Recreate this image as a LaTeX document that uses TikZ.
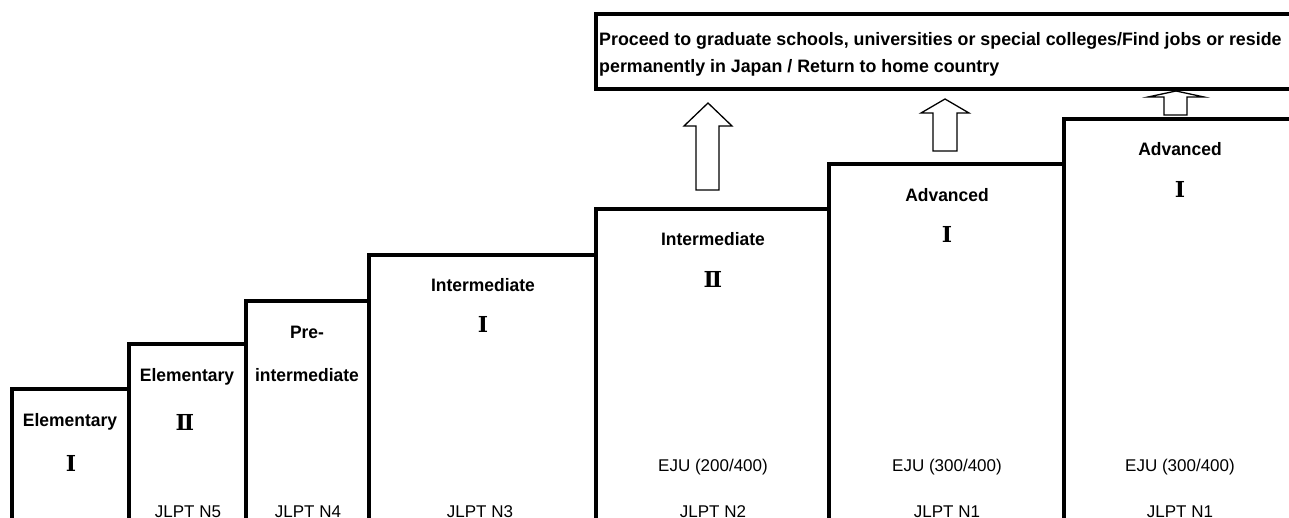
\documentclass[tikz,border=0pt]{standalone}
\usepackage{fontspec}
\setmainfont{Liberation Sans}
\newfontfamily\lblfont[FakeStretch=0.97]{Liberation Sans}
\newfontfamily\topfont[FakeStretch=0.99]{Liberation Sans}
\newfontfamily\numfont{DejaVu Serif}
\begin{document}
\begin{tikzpicture}[x=1pt,y=-1pt,
  box/.style={line width=4pt,line join=miter},
  uparrow/.style={line width=1.3pt,fill=white,line join=miter},
  lbl/.style={inner sep=0pt,anchor=base,font=\lblfont\bfseries\fontsize{18}{20}\selectfont},
  num/.style={inner sep=0pt,font=\numfont\bfseries\fontsize{22}{24}\selectfont},
  small/.style={inner sep=0pt,anchor=base,font=\fontsize{17}{19}\selectfont},
]
\clip (0,0) rectangle (1289,518);
% level boxes
\draw[box] (12,530) -- (12,389) -- (129,389) -- (129,530);
\draw[box] (129,530) -- (129,344) -- (245.5,344) -- (245.5,530);
\draw[box] (245.5,530) -- (245.5,301) -- (369,301) -- (369,530);
\draw[box] (369,530) -- (369,255) -- (596,255) -- (596,530);
\draw[box] (596,530) -- (596,209) -- (829,209) -- (829,530);
\draw[box] (829,530) -- (829,164.5) -- (1064,164.5) -- (1064,530);
\draw[box] (1064,530) -- (1064,119) -- (1300,119);
% arrows
\draw[uparrow] (696,190) -- (696,126) -- (684,126) -- (708,103) -- (732,126) -- (719,126) -- (719,190) -- cycle;
\draw[uparrow] (933,151) -- (933,113) -- (921,113) -- (945,99) -- (969,113) -- (957,113) -- (957,151) -- cycle;
\draw[uparrow] (1164,115) -- (1164,97) -- (1148,97) -- (1176,91) -- (1204,97) -- (1187,97) -- (1187,115) -- cycle;
% destination box
\draw[box] (1300,14) -- (596,14) -- (596,89) -- (1300,89);
\node[anchor=north west,inner sep=0pt,align=left,font=\topfont\bfseries\fontsize{18}{27}\selectfont] (dest) at (599,32)
  {Proceed to graduate schools, universities or special colleges/Find jobs or reside\\permanently in Japan / Return to home country};
% labels
\node[lbl] (e1) at (70,426) {Elementary};
\node[num] (e1n) at (71,463) {Ⅰ};
\node[lbl] (e2) at (187,381) {Elementary};
\node[num] (e2n) at (185,422) {Ⅱ};
\node[lbl] (p1) at (307,338) {Pre-};
\node[lbl] (p2) at (307,381) {intermediate};
\node[lbl] (i1) at (483,292) {Intermediate};
\node[num] (i1n) at (483,324) {Ⅰ};
\node[lbl] (i2) at (713,246) {Intermediate};
\node[num] (i2n) at (713,279) {Ⅱ};
\node[lbl] (a1) at (947,201.5) {Advanced};
\node[num] (a1n) at (947,234) {Ⅰ};
\node[lbl] (a2) at (1180,156) {Advanced};
\node[num] (a2n) at (1180,189) {Ⅰ};
% exam texts
\node[small] (n5) at (188,517) {JLPT N5};
\node[small] (n4) at (308,517) {JLPT N4};
\node[small] (n3) at (480,517) {JLPT N3};
\node[small] (n2) at (713,517) {JLPT N2};
\node[small] (n1a) at (947,517) {JLPT N1};
\node[small] (n1b) at (1180,517) {JLPT N1};
\node[small] (j2) at (713,471) {EJU (200/400)};
\node[small] (j3a) at (947,471) {EJU (300/400)};
\node[small] (j3b) at (1180,471) {EJU (300/400)};
\end{tikzpicture}
\end{document}
